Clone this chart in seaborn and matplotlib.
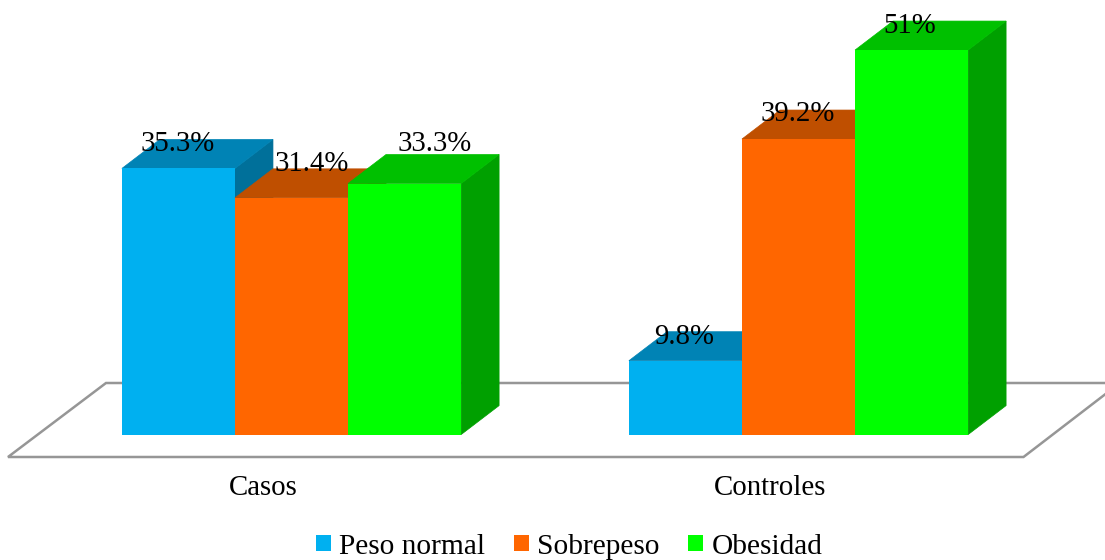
import matplotlib
matplotlib.use("Agg")
import matplotlib.pyplot as plt
from matplotlib.patches import Polygon
import pandas as pd
import seaborn as sns

groups = ["Casos", "Controles"]
weight_classes = ["Peso normal", "Sobrepeso", "Obesidad"]
peso_normal = [35.3, 9.8]
sobrepeso = [31.4, 39.2]
obesidad = [33.3, 51.0]
value_labels = [["35.3%", "9.8%"], ["31.4%", "39.2%"], ["33.3%", "51%"]]

front_colors = ["#00B0F0", "#FF6600", "#00FF00"]
top_colors = ["#0083B5", "#BF4F00", "#00C000"]
side_colors = ["#00709A", "#A84500", "#00A000"]

# Per-label nudges in pixels, measured from the centre of the bar's front top edge
label_nudge = {(0, 0): (-1, 24), (0, 1): (-1, 24),
               (1, 0): (20, 34), (1, 1): (-1, 25),
               (2, 0): (30, 40), (2, 1): (-2, 24)}

W, H = 1105, 560
plt.rcParams["font.family"] = ["Liberation Serif", "DejaVu Serif"]

table = pd.DataFrame({
    "grupo": groups * 3,
    "clase": [c for c in weight_classes for _ in groups],
    "valor": peso_normal + sobrepeso + obesidad,
})

fig = plt.figure(figsize=(W / 100, H / 100), dpi=100, facecolor="white")

# Axes span chosen so one category is 507 px wide and one percent is 7.54 px tall
PX_PER_CAT = 507.0
PX_PER_PCT = 7.54
BASE_PX = 434.6
LEFT_PX = 38.0
ax = fig.add_axes([LEFT_PX / W, (H - BASE_PX) / H, 2 * PX_PER_CAT / W, BASE_PX / H])

sns.barplot(data=table, x="grupo", y="valor", hue="clase", order=groups,
            hue_order=weight_classes, palette=front_colors, saturation=1,
            width=0.669, gap=0, dodge=True, legend=True, ax=ax, linewidth=0)

ax.set_xlim(-0.5, 1.5)
ax.set_ylim(0, BASE_PX / PX_PER_PCT)
ax.patch.set_visible(False)
for spine in ax.spines.values():
    spine.set_visible(False)
ax.set_xlabel("")
ax.set_ylabel("")
ax.set_yticks([])
# The category names sit to the left of their bars, as in a perspective view
tick_shift = -28 / PX_PER_CAT
ax.set_xticks([k + tick_shift for k in range(len(groups))], groups)
ax.tick_params(axis="x", length=0, pad=29.4, labelsize=20.8, labelcolor="black")


def x_from_px(px):
    return -0.5 + (px - LEFT_PX) / PX_PER_CAT


def y_from_px(py):
    return (BASE_PX - py) / PX_PER_PCT


# Floor of the 3D box, sitting behind the bars
floor_px = [(1185, 383), (106, 383), (8, 457), (1023.5, 457), (1185, 333)]
ax.plot([x_from_px(p[0]) for p in floor_px], [y_from_px(p[1]) for p in floor_px],
        color="#969696", lw=1.8, clip_on=False, zorder=1, solid_joinstyle="miter")

# Depth faces: each bar gets a side and a top, shifted back by a fixed pixel offset
depth_x = 38 / PX_PER_CAT
depth_y = 29 / PX_PER_PCT
for j, container in enumerate(ax.containers):
    for i, bar in enumerate(container):
        bar.set_zorder(4 + j)
        x0, x1 = bar.get_x(), bar.get_x() + bar.get_width()
        h = bar.get_height()
        ax.add_patch(Polygon([(x1, 0), (x1 + depth_x, depth_y),
                              (x1 + depth_x, h + depth_y), (x1, h)],
                             closed=True, fc=side_colors[j], ec=side_colors[j],
                             lw=0.5, zorder=3.4 + j, clip_on=False))
        ax.add_patch(Polygon([(x0, h), (x0 + depth_x, h + depth_y),
                              (x1 + depth_x, h + depth_y), (x1, h)],
                             closed=True, fc=top_colors[j], ec=top_colors[j],
                             lw=0.5, zorder=3.6 + j, clip_on=False))
        nx, ny = label_nudge[(j, i)]
        ax.annotate(value_labels[j][i], xy=((x0 + x1) / 2, h),
                    xytext=(nx * 0.72, ny * 0.72), textcoords="offset points",
                    ha="center", va="center", fontsize=20.8, color="black",
                    zorder=20, annotation_clip=False)

handles, labels = ax.get_legend_handles_labels()
ax.legend(handles, labels, loc="center", bbox_to_anchor=(569 / W, 1 - 546.5 / H),
          bbox_transform=fig.transFigure, ncol=3, frameon=False, fontsize=21.2,
          handlelength=0.51, handleheight=0.45, handletextpad=0.28,
          columnspacing=0.98, borderpad=0, borderaxespad=0)

fig.savefig("out.png", dpi=100, facecolor="white")
